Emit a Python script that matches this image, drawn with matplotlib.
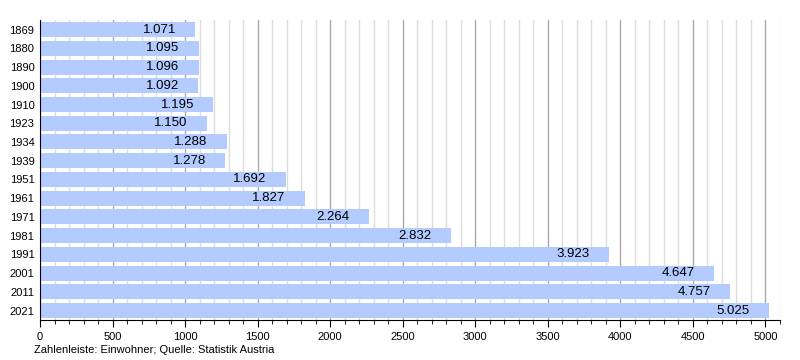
import matplotlib
matplotlib.use("Agg")
import matplotlib.pyplot as plt
from matplotlib.ticker import MultipleLocator

plt.rcParams['font.family'] = ['Liberation Sans', 'DejaVu Sans']

years = ['1869', '1880', '1890', '1900', '1910', '1923', '1934', '1939',
         '1951', '1961', '1971', '1981', '1991', '2001', '2011', '2021']
einwohner = [1071, 1095, 1096, 1092, 1195, 1150, 1288, 1278,
             1692, 1827, 2264, 2832, 3923, 4647, 4757, 5025]

fig = plt.figure(figsize=(8, 3.6), dpi=100)
ax = fig.add_axes([0.05, 0.111, 0.925, 0.833])

pos = list(range(len(years)))
ax.barh(pos, einwohner, height=0.8, color='#b3cbff', zorder=2)

for p, v in zip(pos, einwohner):
    s = f"{v:,}".replace(',', '.')
    ax.annotate(s, (v, p), xytext=(-14, 0), textcoords='offset points',
                ha='right', va='center', fontsize=9.5, color='black', zorder=3)

ax.set_xlim(0, 5100)
ax.set_ylim(len(years) - 0.5, -0.5)
ax.set_yticks(pos)
ax.set_yticklabels(years, fontsize=8)
ax.tick_params(axis='y', length=0, pad=4)

ax.xaxis.set_major_locator(MultipleLocator(500))
ax.xaxis.set_minor_locator(MultipleLocator(100))
ax.tick_params(axis='x', which='major', length=5, labelsize=8, color='black')
ax.tick_params(axis='x', which='minor', length=3, color='black')
ax.grid(axis='x', which='major', color='#aaaaaa', linewidth=1, zorder=0)
ax.grid(axis='x', which='minor', color='#dddddd', linewidth=1, zorder=0)
ax.set_axisbelow(True)

for s in ['top', 'right']:
    ax.spines[s].set_visible(False)
ax.spines['left'].set_color('black')
ax.spines['bottom'].set_color('black')

fig.text(0.043, 0.015, 'Zahlenleiste: Einwohner; Quelle: Statistik Austria',
         fontsize=8, ha='left', va='bottom')

fig.savefig('out.png', dpi=100)
